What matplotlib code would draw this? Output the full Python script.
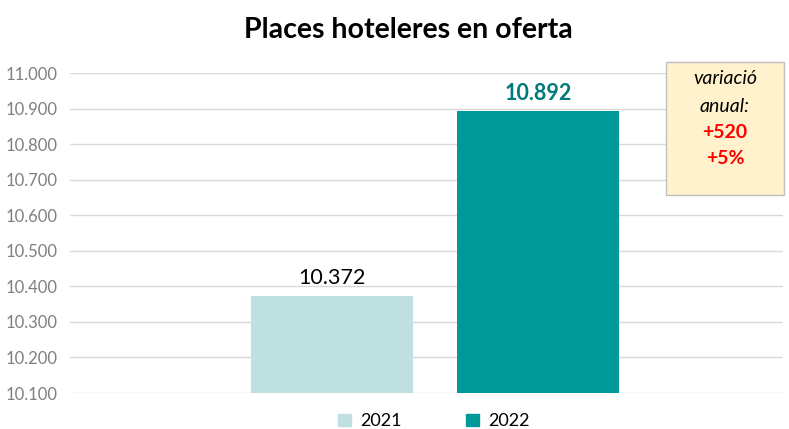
import matplotlib.pyplot as plt
from matplotlib.ticker import FuncFormatter
from matplotlib.patches import Patch

plt.rcParams['font.family'] = ['Lato', 'DejaVu Sans']

years = ['2021', '2022']
places = [10372, 10892]
colors = ['#BFE0E0', '#009999']
label_colors = ['#000000', '#007A7A']
label_weights = ['normal', 'bold']
variation_abs = '+520'
variation_pct = '+5%'

def thousands(v, pos):
    return '{:,.0f}'.format(v).replace(',', '.')

fig = plt.figure(figsize=(7.89, 4.29), dpi=100)
ax = fig.add_axes([0.0887, 0.0839, 0.9033, 0.7459])

offsets = [-0.1445, 0.1445]
width = 0.227
for i in range(len(years)):
    ax.bar(offsets[i], places[i], width=width, color=colors[i], zorder=2)
    ax.text(offsets[i], places[i] + 22, thousands(places[i], None), ha='center', va='bottom',
            fontsize=15.5, color=label_colors[i], fontweight=label_weights[i])

ax.set_ylim(10100, 11000)
ax.set_xlim(-0.512, 0.488)
ax.set_yticks(range(10100, 11001, 100))
ax.yaxis.set_major_formatter(FuncFormatter(thousands))
ax.tick_params(axis='y', length=0, labelsize=12, labelcolor='#7F7F7F', pad=9)
ax.set_xticks([])
ax.grid(axis='y', color='#D9D9D9', linewidth=1, zorder=0)
for s in ax.spines.values():
    s.set_visible(False)

fig.text(0.518, 0.93, 'Places hoteleres en oferta', ha='center', va='center',
         fontsize=20.5, fontweight='bold')

handles = [Patch(color=colors[i], label=years[i]) for i in range(len(years))]
fig.legend(handles=handles, loc='center', bbox_to_anchor=(0.55, 0.018), ncol=2, frameon=False,
           fontsize=13, handlelength=0.7, handleheight=0.7, columnspacing=3.6, handletextpad=0.5)

box = plt.Rectangle((666 / 789, 1 - 195 / 429), 118 / 789, 133 / 429, transform=fig.transFigure,
                    facecolor='#FFF2CC', edgecolor='#BFBFBF', linewidth=1, zorder=0)
fig.patches.append(box)
box_x = 725 / 789
fig.text(box_x, 1 - 79 / 429, 'variació', ha='center', va='center', fontsize=14, style='italic')
fig.text(box_x, 1 - 107 / 429, 'anual:', ha='center', va='center', fontsize=14, style='italic')
fig.text(box_x, 1 - 133 / 429, variation_abs, ha='center', va='center', fontsize=14,
         color='#FF0000', fontweight='bold')
fig.text(box_x, 1 - 158 / 429, variation_pct, ha='center', va='center', fontsize=14,
         color='#FF0000', fontweight='bold')

fig.savefig('out.png', dpi=100)
